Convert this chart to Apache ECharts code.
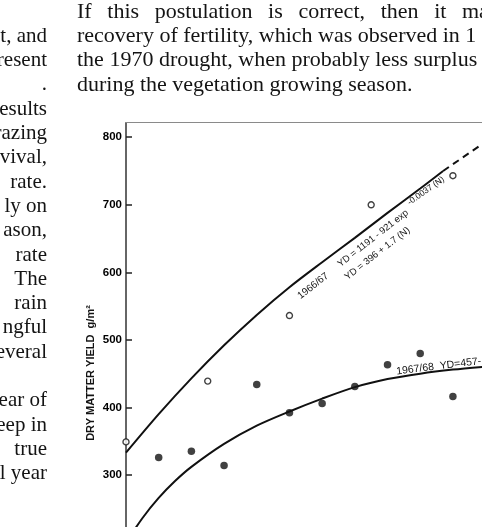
<!DOCTYPE html>
<html>
<head>
<meta charset="utf-8">
<script src="https://cdn.jsdelivr.net/npm/echarts@6/dist/echarts.min.js"></script>
<style>
  html, body { margin: 0; padding: 0; background: #fff; }
  #chart { width: 482px; height: 527px; }
</style>
</head>
<body>
<div id="chart"></div>
<script>
// tick labels on the yield axis
const yTicks = [300, 400, 500, 600, 700, 800];

// 1966/67 observations (open circles)
const open6667X = [0, 2.5, 5, 7.5, 10];
const open6667Y = [349, 439, 536, 700, 743];

// 1967/68 observations (filled dots)
const dots6768X = [1, 2, 3, 4, 5, 6, 7, 8, 9, 10];
const dots6768Y = [326, 335, 314, 434, 392, 406, 431, 463, 480, 416];

// fitted curves
const fit6667X = [0, 1, 2, 3, 4, 5, 6, 7, 8, 9, 9.7];
const fit6667Y = [333, 390, 443, 492, 537, 578, 615, 651, 688, 724, 750];
const ext6667X = [9.7, 10.3, 10.9];
const ext6667Y = [750, 770, 790];

const fit6768X = [0, 0.5, 1, 1.5, 2, 3, 4, 5, 6, 7, 8, 9, 10, 10.9];
const fit6768Y = [200, 236, 266, 291, 312, 346, 373, 394, 413, 430, 442, 450, 456, 460];

// text of the page around the figure
const rightColumn = [
  'If this postulation is correct, then it may',
  'recovery of fertility, which was observed in 1',
  'the 1970 drought, when probably less surplus',
  'during the vegetation growing season.'
];
const leftColumn = ['t, and', 'resent', '.', 'esults', 'razing', 'vival,', 'rate.', 'ly on',
  'ason,', 'rate', 'The', 'rain', 'ngful', 'everal', '', 'ear of', 'eep in', 'true', 'l year'];

const zip = (xs, ys) => xs.map((x, i) => [x, ys[i]]);

const chart = echarts.init(document.getElementById('chart'), null, { renderer: 'canvas' });

const serif = '22px "Liberation Serif", "DejaVu Serif", serif';
const serifLeft = '21px "Liberation Serif", "DejaVu Serif", serif';
const lab = (size, w) => (w || 'normal') + ' ' + size + 'px "Liberation Sans", Arial, sans-serif';
const ink = '#141414';
const slant = 38 * Math.PI / 180;
const lineGap = 24.3;

const pageText = [];
// first line is justified: spread its words so the last one starts at x=462
const measure = document.createElement('canvas').getContext('2d');
measure.font = serif;
const words = rightColumn[0].split(' ');
const widths = words.map(w => measure.measureText(w).width);
const spread = (462 - 77 - widths.slice(0, -1).reduce((a, b) => a + b, 0)) / (words.length - 1);
let wx = 77;
words.forEach((w, i) => {
  pageText.push({
    type: 'text', x: wx, y: 12,
    style: { text: w, font: serif, fill: ink, align: 'left', verticalAlign: 'middle' }
  });
  wx += widths[i] + spread;
});
rightColumn.slice(1).forEach((t, i) => {
  pageText.push({
    type: 'text', x: 77, y: 12 + (i + 1) * lineGap,
    style: { text: t, font: serif, fill: ink, align: 'left', verticalAlign: 'middle' }
  });
});
leftColumn.forEach((t, i) => {
  pageText.push({
    type: 'text', x: 47, y: 12 + (i + 1) * lineGap,
    style: { text: t, font: serifLeft, fill: ink, align: 'right', verticalAlign: 'middle' }
  });
});

const option = {
  backgroundColor: '#fff',
  animation: false,
  grid: { left: 126, right: 0, top: 122.7, bottom: 0, show: false, outerBoundsMode: 'none' },
  xAxis: [
    { type: 'value', min: 0, max: 10.89, show: false },
    {
      type: 'value', position: 'top', min: 0, max: 10.89,
      axisLine: { show: true, lineStyle: { color: '#8a8a8a', width: 1 } },
      axisTick: { show: false }, axisLabel: { show: false }, splitLine: { show: false }
    }
  ],
  yAxis: {
    type: 'value', min: 223, max: 821.5,
    axisLine: { show: true, lineStyle: { color: '#333', width: 1.5 } },
    axisTick: { show: true, inside: true, length: 6, customValues: yTicks, lineStyle: { color: '#222', width: 1.5 } },
    axisLabel: { customValues: yTicks, margin: 4, color: '#000', fontSize: 11.5, fontWeight: 'bold', fontFamily: 'Liberation Sans' },
    splitLine: { show: false }
  },
  series: [
    {
      type: 'line', data: zip(fit6667X, fit6667Y), smooth: 0.3, symbol: 'none',
      lineStyle: { color: '#111', width: 2 }
    },
    {
      type: 'line', data: zip(ext6667X, ext6667Y), symbol: 'none',
      lineStyle: { color: '#111', width: 2, type: [7, 5] }
    },
    {
      type: 'line', data: zip(fit6768X, fit6768Y), smooth: 0.3, symbol: 'none',
      lineStyle: { color: '#111', width: 2 }
    },
    {
      type: 'scatter', data: zip(open6667X, open6667Y), symbol: 'circle', symbolSize: 6,
      itemStyle: { color: '#fff', borderColor: '#111', borderWidth: 1.4 }
    },
    {
      type: 'scatter', data: zip(dots6768X, dots6768Y), symbol: 'circle', symbolSize: 7.5,
      itemStyle: { color: '#111' }
    }
  ],
  graphic: pageText.concat([
    {
      type: 'text', x: 91, y: 373, rotation: Math.PI / 2,
      style: { text: 'DRY MATTER YIELD  g/m²', font: lab(11, 'bold'), fill: ink, align: 'center', verticalAlign: 'middle' }
    },
    {
      type: 'text', x: 302, y: 301, rotation: slant,
      style: { text: '1966/67', font: lab(10), fill: ink, align: 'left', verticalAlign: 'bottom' }
    },
    {
      type: 'text', x: 342, y: 269, rotation: slant,
      style: { text: 'YD = 1191 - 921 exp', font: lab(9.5), fill: ink, align: 'left', verticalAlign: 'bottom' }
    },
    {
      type: 'text', x: 411, y: 207, rotation: slant - 0.05,
      style: { text: '-0.0037 (N)', font: lab(8.5), fill: ink, align: 'left', verticalAlign: 'bottom' }
    },
    {
      type: 'text', x: 349, y: 282, rotation: slant,
      style: { text: 'YD = 396 + 1.7 (N)', font: lab(9.5), fill: ink, align: 'left', verticalAlign: 'bottom' }
    },
    {
      type: 'text', x: 397, y: 377, rotation: 7 * Math.PI / 180,
      style: { text: '1967/68  YD=457-', font: lab(10.5), fill: ink, align: 'left', verticalAlign: 'bottom' }
    }
  ])
};

chart.setOption(option);
window.addEventListener('resize', () => chart.resize());
</script>
</body>
</html>
